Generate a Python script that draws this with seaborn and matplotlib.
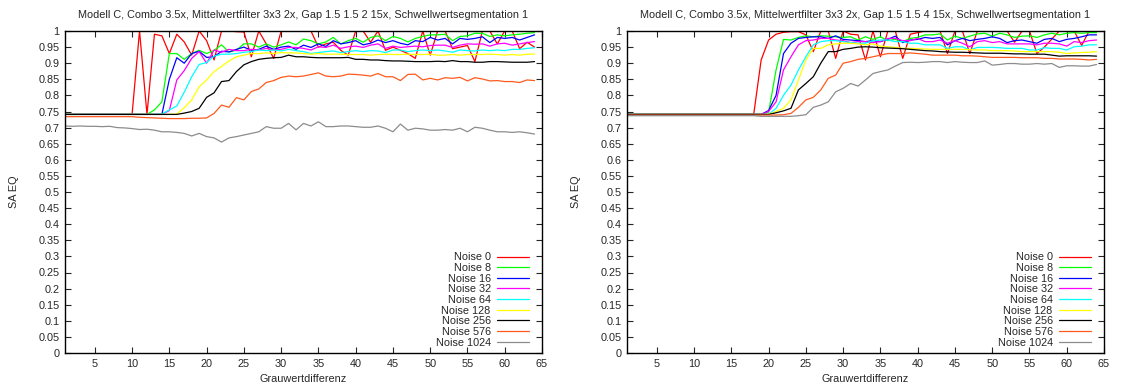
import numpy as np
import pandas as pd
import matplotlib
matplotlib.use("Agg")
import matplotlib.pyplot as plt
import seaborn as sns

# Grauwertdifferenz 1..64
grauwert = list(range(1, 65))

noise_labels = ["Noise 0", "Noise 8", "Noise 16", "Noise 32", "Noise 64",
                "Noise 128", "Noise 256", "Noise 576", "Noise 1024"]
noise_colors = ["#ff0000", "#00ff00", "#0000ff", "#ff00ff", "#00ffff",
                "#ffff00", "#000000", "#ff5a1e", "#8c8c8c"]

title_left = "Modell C, Combo 3.5x, Mittelwertfilter 3x3 2x, Gap 1.5 1.5 2 15x, Schwellwertsegmentation 1"
title_right = "Modell C, Combo 3.5x, Mittelwertfilter 3x3 2x, Gap 1.5 1.5 4 15x, Schwellwertsegmentation 1"

# ---- Gap 1.5 1.5 2 ----
left_n0 = [0.741]*10 + [1.0, 0.741, 0.99, 0.985, 0.93, 0.99, 0.966, 0.925, 1.0, 0.97,
           0.91, 1.0, 1.0, 0.998, 0.997, 0.92, 1.0, 0.96, 0.915, 1.0,
           1.0, 1.0, 1.0, 1.0, 0.95, 0.96, 0.965, 0.94, 0.925, 1.0,
           1.0, 0.965, 1.0, 0.94, 0.95, 0.94, 0.93, 0.915, 1.0, 0.925,
           1.0, 1.0, 0.945, 0.95, 0.955, 0.905, 1.0, 1.0, 0.96, 1.0,
           1.0, 0.945, 0.965, 0.95]
left_n8 = [0.741]*12 + [0.755, 0.78, 0.93, 0.93, 0.912, 0.93, 0.94, 0.93,
           0.94, 0.957, 0.935, 0.94, 0.96, 0.96, 0.95, 0.96, 0.95, 0.957,
           0.966, 0.957, 0.975, 0.97, 0.96, 0.966, 0.98, 0.96, 0.97, 0.977,
           0.965, 0.98, 0.985, 0.97, 0.983, 0.977, 0.966, 0.977, 0.983, 0.988,
           0.988, 0.99, 0.97, 0.983, 0.985, 0.993, 0.993, 0.983, 0.988, 0.985,
           0.988, 0.99, 0.993, 0.995]
left_n16 = [0.741]*14 + [0.85, 0.917, 0.9, 0.93, 0.937, 0.918,
            0.92, 0.937, 0.935, 0.943, 0.95, 0.94, 0.943, 0.953, 0.943, 0.95,
            0.953, 0.943, 0.956, 0.949, 0.96, 0.952, 0.97, 0.96, 0.964, 0.97,
            0.957, 0.962, 0.972, 0.964, 0.97, 0.962, 0.957, 0.97, 0.967, 0.98,
            0.972, 0.977, 0.96, 0.977, 0.974, 0.977, 0.982, 0.964, 0.98, 0.977,
            0.98, 0.972, 0.98, 0.988]
left_n32 = [0.741]*14 + [0.753, 0.848, 0.877, 0.915, 0.936, 0.9,
            0.941, 0.934, 0.943, 0.939, 0.939, 0.943, 0.941, 0.946, 0.941, 0.943,
            0.949, 0.949, 0.946, 0.941, 0.951, 0.949, 0.956, 0.946, 0.951, 0.953,
            0.949, 0.956, 0.96, 0.946, 0.953, 0.949, 0.951, 0.953, 0.951, 0.955,
            0.956, 0.956, 0.949, 0.956, 0.96, 0.959, 0.96, 0.953, 0.96, 0.962,
            0.956, 0.96, 0.964, 0.967]
left_n64 = [0.741]*13 + [0.742, 0.755, 0.767, 0.81, 0.858, 0.896, 0.902,
            0.922, 0.928, 0.928, 0.93, 0.934, 0.936, 0.941, 0.939, 0.941, 0.938,
            0.943, 0.939, 0.936, 0.93, 0.933, 0.936, 0.938, 0.933, 0.936, 0.939,
            0.936, 0.939, 0.938, 0.933, 0.941, 0.941, 0.936, 0.939, 0.941, 0.939,
            0.941, 0.938, 0.934, 0.941, 0.939, 0.938, 0.941, 0.939, 0.941, 0.939,
            0.943, 0.943, 0.946, 0.948]
left_n128 = [0.741]*15 + [0.742, 0.762, 0.786, 0.827, 0.848,
             0.874, 0.89, 0.907, 0.92, 0.925, 0.93, 0.93, 0.932, 0.93, 0.933,
             0.932, 0.932, 0.93, 0.928, 0.93, 0.928, 0.928, 0.928, 0.927, 0.927,
             0.927, 0.925, 0.927, 0.928, 0.927, 0.927, 0.928, 0.927, 0.927, 0.928,
             0.925, 0.925, 0.927, 0.925, 0.927, 0.927, 0.927, 0.928, 0.927, 0.925,
             0.927, 0.925, 0.928, 0.928]
left_n256 = [0.741]*16 + [0.745, 0.75, 0.76, 0.794,
             0.808, 0.843, 0.846, 0.874, 0.895, 0.905, 0.912, 0.915, 0.917, 0.918,
             0.925, 0.92, 0.92, 0.918, 0.917, 0.917, 0.917, 0.917, 0.918, 0.912,
             0.912, 0.91, 0.91, 0.908, 0.907, 0.907, 0.906, 0.905, 0.905, 0.905,
             0.906, 0.905, 0.908, 0.905, 0.905, 0.903, 0.903, 0.905, 0.905, 0.904,
             0.903, 0.903, 0.903, 0.905]
left_n576 = [0.734]*10 + [0.732, 0.731, 0.73, 0.729, 0.728, 0.728, 0.728, 0.729, 0.729, 0.73,
             0.744, 0.77, 0.763, 0.793, 0.786, 0.812, 0.82, 0.84, 0.846, 0.856,
             0.86, 0.858, 0.86, 0.865, 0.87, 0.86, 0.858, 0.86, 0.866, 0.865,
             0.863, 0.86, 0.868, 0.858, 0.858, 0.846, 0.865, 0.866, 0.848, 0.853,
             0.848, 0.855, 0.853, 0.856, 0.845, 0.855, 0.851, 0.845, 0.846, 0.843,
             0.843, 0.84, 0.848, 0.846]
left_n1024 = [0.705, 0.704, 0.705, 0.704, 0.704, 0.703, 0.704, 0.7, 0.699, 0.697,
              0.694, 0.695, 0.692, 0.687, 0.687, 0.685, 0.682, 0.674, 0.682, 0.672,
              0.668, 0.655, 0.668, 0.672, 0.677, 0.682, 0.687, 0.703, 0.698, 0.698,
              0.713, 0.693, 0.713, 0.705, 0.718, 0.703, 0.703, 0.705, 0.705, 0.703,
              0.701, 0.701, 0.705, 0.698, 0.687, 0.711, 0.692, 0.698, 0.696, 0.692,
              0.692, 0.694, 0.692, 0.698, 0.687, 0.701, 0.698, 0.692, 0.687, 0.687,
              0.685, 0.687, 0.684, 0.68]

# ---- Gap 1.5 1.5 4 ----
right_n0 = [0.741]*18 + [0.91, 0.972, 0.99, 0.996, 0.998, 0.998, 0.988, 0.936,
            1.0, 1.0, 0.915, 1.0, 0.99, 0.988, 0.91, 1.0, 0.92, 1.0,
            1.0, 0.915, 0.99, 0.995, 1.0, 1.0, 1.0, 0.93, 1.0, 1.0,
            0.93, 1.0, 1.0, 1.0, 1.0, 1.0, 0.965, 1.0, 1.0, 0.93,
            0.95, 0.975, 1.0, 1.0, 1.0, 0.955, 1.0, 1.0]
right_n8 = [0.741]*19 + [0.748, 0.879, 0.974, 0.972, 0.98, 0.985, 0.982, 0.985,
            0.984, 0.982, 0.98, 0.982, 0.972, 0.982, 0.974, 0.982, 0.97, 0.974,
            0.967, 0.977, 0.98, 0.988, 0.988, 0.991, 0.972, 0.984, 0.977, 0.984,
            0.991, 0.993, 0.984, 0.993, 0.988, 0.98, 0.984, 0.985, 0.98, 0.988,
            0.993, 0.988, 0.993, 0.995, 0.993, 0.995, 0.995]
right_n16 = [0.741]*19 + [0.753, 0.8, 0.93, 0.962, 0.977, 0.98, 0.982, 0.982,
             0.977, 0.985, 0.974, 0.972, 0.97, 0.967, 0.97, 0.967, 0.974, 0.984,
             0.964, 0.972, 0.974, 0.98, 0.977, 0.98, 0.957, 0.97, 0.977, 0.97,
             0.974, 0.977, 0.982, 0.977, 0.964, 0.97, 0.972, 0.967, 0.962, 0.974,
             0.977, 0.967, 0.974, 0.977, 0.982, 0.988, 0.988]
right_n32 = [0.741]*19 + [0.75, 0.78, 0.879, 0.92, 0.957, 0.97, 0.972, 0.977,
             0.977, 0.972, 0.97, 0.964, 0.967, 0.967, 0.964, 0.967, 0.977, 0.977,
             0.97, 0.97, 0.977, 0.967, 0.967, 0.972, 0.962, 0.97, 0.962, 0.951,
             0.967, 0.97, 0.964, 0.967, 0.96, 0.96, 0.96, 0.96, 0.957, 0.962,
             0.962, 0.96, 0.953, 0.967, 0.964, 0.97, 0.972]
right_n64 = [0.741]*20 + [0.76, 0.8, 0.832, 0.879, 0.92, 0.957, 0.967,
             0.97, 0.97, 0.967, 0.964, 0.962, 0.962, 0.97, 0.972, 0.972, 0.967,
             0.967, 0.962, 0.962, 0.957, 0.957, 0.957, 0.946, 0.951, 0.951, 0.941,
             0.949, 0.949, 0.949, 0.948, 0.946, 0.946, 0.946, 0.941, 0.941, 0.948,
             0.946, 0.946, 0.941, 0.951, 0.953, 0.957, 0.957]
right_n128 = [0.741]*20 + [0.75, 0.76, 0.786, 0.848, 0.91, 0.946, 0.946,
              0.957, 0.96, 0.962, 0.962, 0.96, 0.957, 0.96, 0.953, 0.951, 0.949,
              0.946, 0.946, 0.945, 0.944, 0.943, 0.943, 0.943, 0.943, 0.943, 0.942,
              0.941, 0.941, 0.939, 0.939, 0.939, 0.938, 0.936, 0.936, 0.936, 0.936,
              0.936, 0.934, 0.93, 0.932, 0.933, 0.934, 0.936]
right_n256 = [0.741]*20 + [0.746, 0.752, 0.76, 0.817, 0.837, 0.858, 0.9,
              0.936, 0.936, 0.943, 0.946, 0.95, 0.951, 0.95, 0.948, 0.947, 0.946,
              0.945, 0.943, 0.941, 0.939, 0.938, 0.936, 0.935, 0.934, 0.934, 0.933,
              0.932, 0.931, 0.931, 0.931, 0.93, 0.929, 0.929, 0.928, 0.928, 0.928,
              0.925, 0.922, 0.923, 0.923, 0.923, 0.923, 0.922]
right_n576 = [0.739]*21 + [0.74, 0.744, 0.763, 0.786, 0.794, 0.817, 0.853,
              0.863, 0.9, 0.905, 0.912, 0.915, 0.92, 0.925, 0.93, 0.93, 0.93,
              0.932, 0.93, 0.928, 0.925, 0.925, 0.925, 0.925, 0.923, 0.923, 0.922,
              0.92, 0.918, 0.918, 0.918, 0.918, 0.917, 0.917, 0.917, 0.915, 0.915,
              0.913, 0.913, 0.913, 0.912, 0.91, 0.912]
right_n1024 = [0.737]*18 + [0.735, 0.735, 0.735, 0.735, 0.735, 0.737, 0.74, 0.763,
               0.77, 0.78, 0.811, 0.822, 0.837, 0.829, 0.848, 0.868, 0.874, 0.879,
               0.891, 0.902, 0.903, 0.902, 0.903, 0.905, 0.905, 0.902, 0.905, 0.903,
               0.902, 0.902, 0.907, 0.894, 0.896, 0.899, 0.899, 0.897, 0.897, 0.899,
               0.897, 0.899, 0.887, 0.892, 0.892, 0.891, 0.891, 0.896]

left_series = [left_n0, left_n8, left_n16, left_n32, left_n64,
               left_n128, left_n256, left_n576, left_n1024]
right_series = [right_n0, right_n8, right_n16, right_n32, right_n64,
                right_n128, right_n256, right_n576, right_n1024]

sns.set_style("ticks")
plt.rcParams["font.family"] = ["Liberation Sans", "DejaVu Sans"]
FS = 7.8

fig = plt.figure(figsize=(11.21, 3.88), dpi=100)
W, H = 1121, 388
ax_l = fig.add_axes([65 / W, 1 - 353 / H, 477 / W, 322 / H])
ax_r = fig.add_axes([627 / W, 1 - 353 / H, 477 / W, 322 / H])

yticks = np.round(np.arange(0, 1.0001, 0.05), 2)

for ax, series, title in [(ax_l, left_series, title_left),
                          (ax_r, right_series, title_right)]:
    frames = []
    for lab, vals in zip(noise_labels, series):
        frames.append(pd.DataFrame({"Grauwertdifferenz": grauwert,
                                    "SA EQ": vals, "Noise": lab}))
    df = pd.concat(frames, ignore_index=True)
    sns.lineplot(data=df, x="Grauwertdifferenz", y="SA EQ", hue="Noise",
                 hue_order=noise_labels, palette=noise_colors,
                 linewidth=0.9, ax=ax, legend=True)
    ax.set_xlim(1, 65)
    ax.set_ylim(0, 1)
    ax.set_xticks(range(5, 70, 5))
    ax.set_xticklabels([str(v) for v in range(5, 70, 5)], fontsize=FS)
    ax.set_yticks(yticks)
    ax.set_yticklabels([f"{v:g}" for v in yticks], fontsize=FS)
    ax.tick_params(direction="in", top=True, right=True, length=4, width=0.8, pad=4)
    for sp in ax.spines.values():
        sp.set_linewidth(1.0)
        sp.set_color("black")
    ax.set_title(title, fontsize=FS, pad=9)
    ax.set_xlabel("Grauwertdifferenz", fontsize=FS, labelpad=4)
    ax.set_ylabel("SA EQ", fontsize=FS, labelpad=14)
    handles, labels = ax.get_legend_handles_labels()
    ax.legend(handles, labels, loc="lower right", bbox_to_anchor=(0.972, 0.017),
              frameon=False, markerfirst=False, fontsize=FS, labelspacing=0.06,
              handlelength=2.9, handletextpad=0.6, borderpad=0, borderaxespad=0)

fig.savefig("out.png", dpi=100)
